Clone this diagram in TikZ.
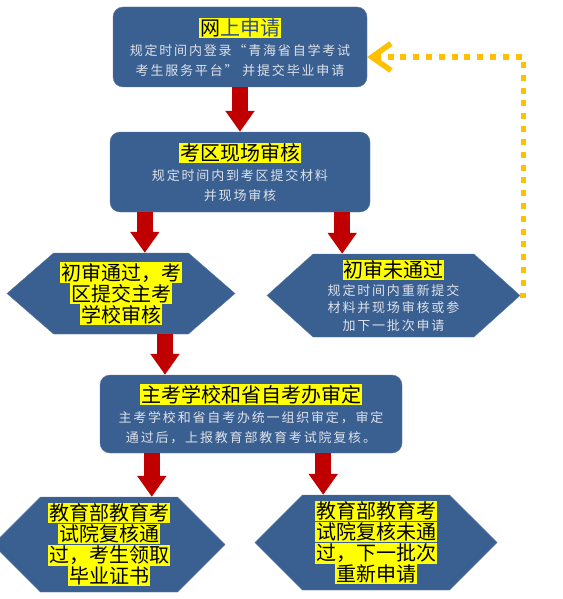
\documentclass[tikz,border=0pt]{standalone}
\usepackage{fontspec}
\usetikzlibrary{shapes.symbols,arrows.meta}
\newfontfamily\cjk{Noto Sans CJK SC}
\newfontfamily\cjksub[LetterSpace=14]{Noto Sans CJK SC}
\definecolor{boxblue}{HTML}{3A5F91}
\definecolor{arrowred}{HTML}{C00000}
\definecolor{loopgold}{HTML}{FFC000}
\definecolor{hlyellow}{HTML}{FFFF00}
\definecolor{subgray}{HTML}{DDE2EA}
\definecolor{titleblue}{HTML}{2E4E8C}
\newcommand{\hlt}[1]{{\setlength{\fboxsep}{0.8pt}\colorbox{hlyellow}{\color{black}#1}}}
\newcommand{\ttl}{\cjk\fontsize{20}{21}\selectfont}
\newcommand{\subtxt}{\cjksub\fontsize{13}{20}\selectfont}

\begin{document}
\begin{tikzpicture}[x=1pt, y=-1pt,
stepbox/.style={rectangle, rounded corners=10pt, fill=boxblue, draw=boxblue!85!white, align=center, inner sep=2pt, font=\subtxt, text=subgray},
hexbox/.style={signal, signal to=east and west, fill=boxblue, draw=boxblue!85!white, align=center, inner sep=2pt, font=\ttl, text=black},
redarrow/.style={arrowred, line width=16pt, -{Triangle[length=21pt, width=28pt]}},
loopline/.style={loopgold, line width=5.5pt, dash pattern=on 6pt off 6.8pt, -{Straight Barb[length=19pt, width=27pt, line width=5.5pt]}},
]
\useasboundingbox (0,0) rectangle (562,599);
%Nodes
\node[stepbox, minimum width=254pt, minimum height=80pt] (apply) at (240,47) {{\ttl\hlt{网\textcolor{titleblue}{上申请}}}\\ 规定时间内登录“青海省自学考试\\ 考生服务平台” 并提交毕业申请};
\node[stepbox, minimum width=260pt, minimum height=80pt] (onsite) at (240,172) {{\ttl\hlt{考区现场审核}}\\ 规定时间内到考区提交材料\\ 并现场审核};
\node[hexbox, minimum width=228pt, minimum height=81pt, signal pointer angle=82] (passL) at (121,293.5) {\hlt{初审通过，考}\\ \hlt{区提交主考}\\ \hlt{学校审核}};
\node[hexbox, minimum width=253pt, minimum height=83pt, signal pointer angle=84, text=subgray, font={\cjksub\fontsize{13}{17.5}\selectfont}] (failR) at (393.5,295.5) {{\ttl\hlt{初审未通过}}\\ 规定时间内重新提交\\ 材料并现场审核或参\\ 加下一批次申请};
\node[stepbox, minimum width=302pt, minimum height=78pt] (review) at (251,414) {{\ttl\hlt{主考学校和省自考办审定}}\\ 主考学校和省自考办统一组织审定，审定\\ 通过后，上报教育部教育考试院复核。};
\node[hexbox, minimum width=232pt, minimum height=95pt, signal pointer angle=90] (finalL) at (109,544.5) {\hlt{教育部教育考}\\ \hlt{试院复核通}\\ \hlt{过，考生领取}\\ \hlt{毕业证书}};
\node[hexbox, minimum width=242pt, minimum height=95pt, signal pointer angle=90] (finalR) at (376,542.5) {\hlt{教育部教育考}\\ \hlt{试院复核未通}\\ \hlt{过，下一批次}\\ \hlt{重新申请}};

%Lines
\draw[redarrow] (apply.south) -- (onsite.north);
\draw[redarrow] ([xshift=35pt]onsite.south west) -- ([xshift=35pt]onsite.south west |- passL.north);
\draw[redarrow] ([xshift=-28pt]onsite.south east) -- ([xshift=-28pt]onsite.south east |- failR.north);
\draw[redarrow] ([xshift=44pt]passL.south) -- ([xshift=44pt]passL.south |- review.north);
\draw[redarrow] ([xshift=52pt]review.south west) -- ([xshift=52pt]review.south west |- finalL.north);
\draw[redarrow] ([xshift=-79pt]review.south east) -- ([xshift=-79pt]review.south east |- finalR.north);
\draw[loopline] (failR.east) -- ++(3pt,0) |- ([yshift=-10pt]apply.east);

\end{tikzpicture}
\end{document}
